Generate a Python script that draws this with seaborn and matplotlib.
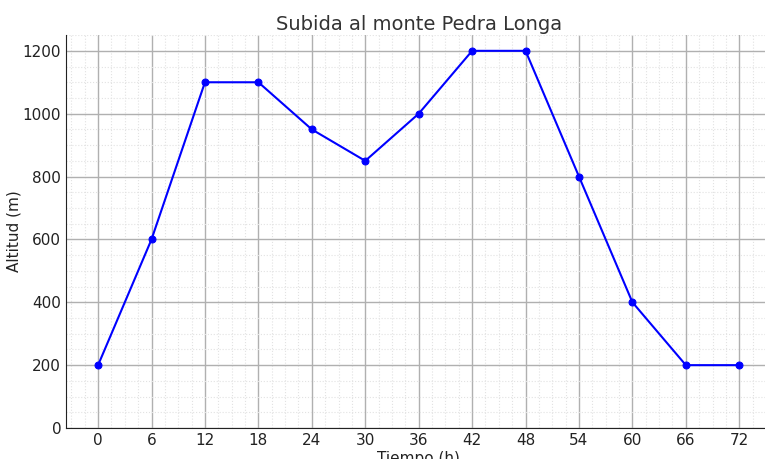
import pandas as pd
import matplotlib.pyplot as plt
import seaborn as sns
from matplotlib.ticker import MultipleLocator

horas = [0, 6, 12, 18, 24, 30, 36, 42, 48, 54, 60, 66, 72]
altitud = [200, 600, 1100, 1100, 950, 850, 1000, 1200, 1200, 800, 400, 200, 200]

df = pd.DataFrame({'Tiempo (h)': horas, 'Altitud (m)': altitud})

sns.set_style('white')
fig = plt.figure(figsize=(7.65, 4.59), dpi=100)
ax = fig.add_axes([0.0863, 0.0675, 0.922, 0.856])

sns.lineplot(data=df, x='Tiempo (h)', y='Altitud (m)', color='blue', marker='o',
             markersize=5, markeredgecolor='blue', linewidth=1.5, ax=ax, zorder=3)

ax.set_xlim(-3.6, 75.6)
ax.set_ylim(0, 1250)
ax.xaxis.set_major_locator(MultipleLocator(6))
ax.xaxis.set_minor_locator(MultipleLocator(1.5))
ax.yaxis.set_major_locator(MultipleLocator(200))
ax.yaxis.set_minor_locator(MultipleLocator(50))

ax.grid(which='major', color='#b0b0b0', linewidth=1.0)
ax.grid(which='minor', color='#e2e2e2', linestyle=':', linewidth=0.8)
ax.tick_params(which='major', direction='in', length=4, labelsize=11, colors='#222222')
ax.tick_params(which='minor', direction='in', length=2.5, color='#222222')

for s in ['top', 'right']:
    ax.spines[s].set_visible(False)
for s in ['left', 'bottom']:
    ax.spines[s].set_color('#222222')

ax.set_title('Subida al monte Pedra Longa', fontsize=14, color='#333333', pad=4)
ax.set_xlabel('Tiempo (h)', fontsize=11, color='#222222', labelpad=2)
ax.set_ylabel('Altitud (m)', fontsize=11, color='#222222', labelpad=1)

fig.savefig('out.png', dpi=100)
plt.close()
